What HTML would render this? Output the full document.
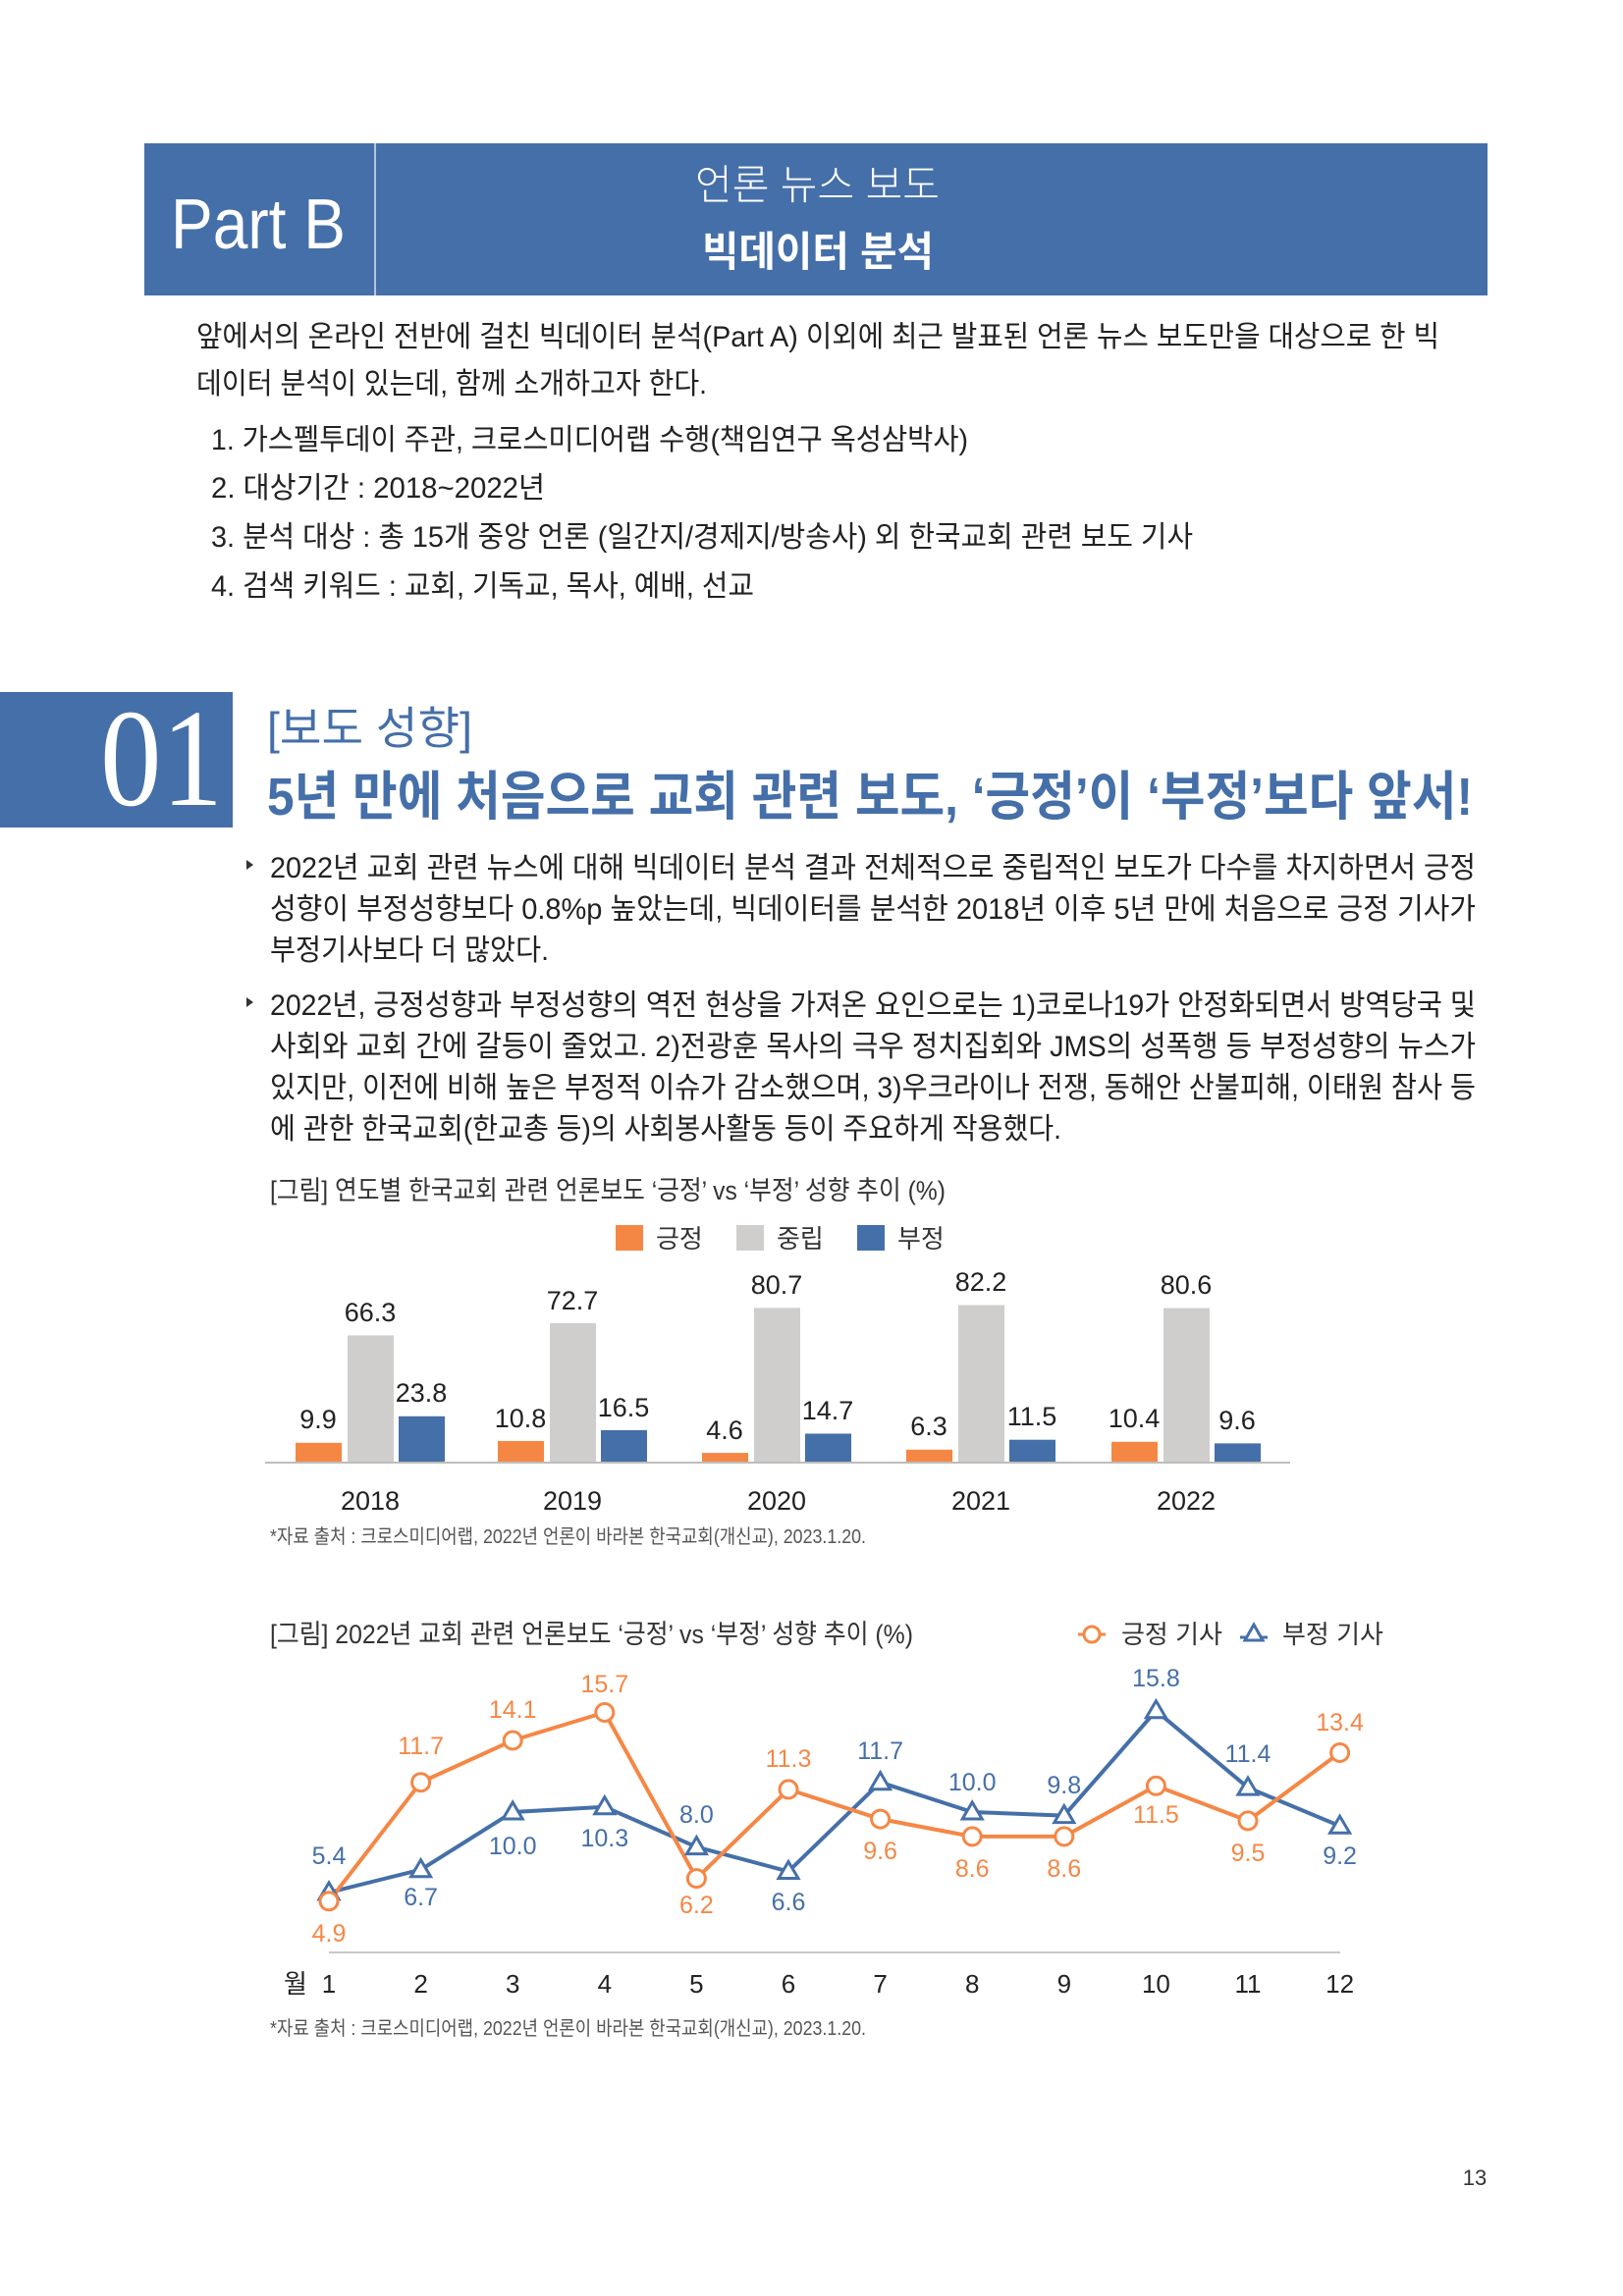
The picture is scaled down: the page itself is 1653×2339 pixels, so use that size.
<!DOCTYPE html>
<html><head><meta charset="utf-8"><style>
html,body{margin:0;padding:0;background:#fff;}
svg{display:block;}
text{font-family:"Liberation Sans","Noto Sans CJK KR",sans-serif;}
</style></head><body>
<svg width="1653" height="2339" viewBox="0 0 1653 2339" xmlns="http://www.w3.org/2000/svg">
<!-- Header -->
<rect x="147" y="146" width="1368" height="155" fill="#456fa8"/>
<line x1="382" y1="146" x2="382" y2="301" stroke="#ffffff" stroke-width="1.5" opacity="0.8"/>
<text x="174" y="253" font-size="72" fill="#fff" textLength="178" lengthAdjust="spacingAndGlyphs">Part B</text>
<text x="708" y="203" font-size="42" fill="#fff" font-weight="300" textLength="249" lengthAdjust="spacingAndGlyphs">언론 뉴스 보도</text>
<text x="715" y="271" font-size="42" fill="#fff" font-weight="bold" textLength="236" lengthAdjust="spacingAndGlyphs">빅데이터 분석</text>

<!-- Intro paragraph -->
<g font-size="30" fill="#222">
<text x="200" y="353" textLength="1266" lengthAdjust="spacingAndGlyphs">앞에서의 온라인 전반에 걸친 빅데이터 분석(Part A) 이외에 최근 발표된 언론 뉴스 보도만을 대상으로 한 빅</text>
<text x="200" y="401" textLength="520" lengthAdjust="spacingAndGlyphs">데이터 분석이 있는데, 함께 소개하고자 한다.</text>
<text x="215" y="458" textLength="771" lengthAdjust="spacingAndGlyphs">1.  가스펠투데이 주관, 크로스미디어랩 수행(책임연구 옥성삼박사)</text>
<text x="215" y="507" textLength="340" lengthAdjust="spacingAndGlyphs">2.  대상기간 : 2018~2022년</text>
<text x="215" y="557" textLength="1000" lengthAdjust="spacingAndGlyphs">3.  분석 대상 : 총 15개 중앙 언론 (일간지/경제지/방송사) 외 한국교회 관련 보도 기사</text>
<text x="215" y="607" textLength="553" lengthAdjust="spacingAndGlyphs">4.  검색 키워드 : 교회, 기독교, 목사, 예배, 선교</text>
</g>

<!-- Section 01 -->
<rect x="0" y="705" width="237" height="138" fill="#456fa8"/>
<text x="102" y="820" style="font-family:'Liberation Serif',serif" font-size="142" fill="#fff" textLength="125" lengthAdjust="spacingAndGlyphs">01</text>
<text x="272" y="758" font-size="46" fill="#456fa8" textLength="209" lengthAdjust="spacingAndGlyphs">[보도 성향]</text>
<text x="272" y="830" font-size="54" fill="#456fa8" font-weight="bold" textLength="1228" lengthAdjust="spacingAndGlyphs">5년 만에 처음으로 교회 관련 보도, ‘긍정’이 ‘부정’보다 앞서!</text>

<!-- Bullets -->
<g font-size="30" fill="#222">
<path d="M251 876 l7 5 l-7 5 z" fill="#333"/>
<text x="275" y="894" textLength="1228" lengthAdjust="spacingAndGlyphs">2022년 교회 관련 뉴스에 대해 빅데이터 분석 결과 전체적으로 중립적인 보도가 다수를 차지하면서 긍정</text>
<text x="275" y="936" textLength="1228" lengthAdjust="spacingAndGlyphs">성향이 부정성향보다 0.8%p 높았는데, 빅데이터를 분석한 2018년 이후 5년 만에 처음으로 긍정 기사가</text>
<text x="275" y="978" textLength="284" lengthAdjust="spacingAndGlyphs">부정기사보다 더 많았다.</text>
<path d="M251 1016 l7 5 l-7 5 z" fill="#333"/>
<text x="275" y="1034" textLength="1228" lengthAdjust="spacingAndGlyphs">2022년, 긍정성향과 부정성향의 역전 현상을 가져온 요인으로는 1)코로나19가 안정화되면서 방역당국 및</text>
<text x="275" y="1076" textLength="1228" lengthAdjust="spacingAndGlyphs">사회와 교회 간에 갈등이 줄었고. 2)전광훈 목사의 극우 정치집회와 JMS의 성폭행 등 부정성향의 뉴스가</text>
<text x="275" y="1118" textLength="1228" lengthAdjust="spacingAndGlyphs">있지만, 이전에 비해 높은 부정적 이슈가 감소했으며, 3)우크라이나 전쟁, 동해안 산불피해, 이태원 참사 등</text>
<text x="275" y="1160" textLength="806" lengthAdjust="spacingAndGlyphs">에 관한 한국교회(한교총 등)의 사회봉사활동 등이 주요하게 작용했다.</text>
</g>

<!-- Bar chart -->
<text x="275" y="1222" font-size="27" fill="#333" textLength="688" lengthAdjust="spacingAndGlyphs">[그림] 연도별 한국교회 관련 언론보도 ‘긍정’ vs ‘부정’ 성향 추이 (%)</text>
<rect x="627" y="1248" width="28" height="26" fill="#f58745"/>
<text x="668" y="1271" font-size="26" fill="#333">긍정</text>
<rect x="750" y="1248" width="28" height="26" fill="#cfcecd"/>
<text x="791" y="1271" font-size="26" fill="#333">중립</text>
<rect x="873" y="1248" width="28" height="26" fill="#456fa8"/>
<text x="914" y="1271" font-size="26" fill="#333">부정</text>

<g font-size="27" fill="#222" text-anchor="middle">
<rect x="301" y="1469.8" width="47" height="19.2" fill="#f58745"/>
<rect x="354" y="1360.4" width="47" height="128.6" fill="#cfcecd"/>
<rect x="406" y="1442.8" width="47" height="46.2" fill="#456fa8"/>
<text x="324" y="1455">9.9</text><text x="377" y="1346">66.3</text><text x="429" y="1428">23.8</text>
<text x="377" y="1538">2018</text>
<rect x="507" y="1468.0" width="47" height="21.0" fill="#f58745"/>
<rect x="560" y="1348.0" width="47" height="141.0" fill="#cfcecd"/>
<rect x="612" y="1457.0" width="47" height="32.0" fill="#456fa8"/>
<text x="530" y="1454">10.8</text><text x="583" y="1334">72.7</text><text x="635" y="1443">16.5</text>
<text x="583" y="1538">2019</text>
<rect x="715" y="1480.1" width="47" height="8.9" fill="#f58745"/>
<rect x="768" y="1332.4" width="47" height="156.6" fill="#cfcecd"/>
<rect x="820" y="1460.5" width="47" height="28.5" fill="#456fa8"/>
<text x="738" y="1466">4.6</text><text x="791" y="1318">80.7</text><text x="843" y="1446">14.7</text>
<text x="791" y="1538">2020</text>
<rect x="923" y="1476.8" width="47" height="12.2" fill="#f58745"/>
<rect x="976" y="1329.5" width="47" height="159.5" fill="#cfcecd"/>
<rect x="1028" y="1466.7" width="47" height="22.3" fill="#456fa8"/>
<text x="946" y="1462">6.3</text><text x="999" y="1315">82.2</text><text x="1051" y="1452">11.5</text>
<text x="999" y="1538">2021</text>
<rect x="1132" y="1468.8" width="47" height="20.2" fill="#f58745"/>
<rect x="1185" y="1332.6" width="47" height="156.4" fill="#cfcecd"/>
<rect x="1237" y="1470.4" width="47" height="18.6" fill="#456fa8"/>
<text x="1155" y="1454">10.4</text><text x="1208" y="1318">80.6</text><text x="1260" y="1456">9.6</text>
<text x="1208" y="1538">2022</text>
</g>
<line x1="270" y1="1490" x2="1314" y2="1490" stroke="#bdbdbd" stroke-width="2"/>
<text x="275" y="1572" font-size="20" fill="#555" textLength="607" lengthAdjust="spacingAndGlyphs">*자료 출처 : 크로스미디어랩, 2022년 언론이 바라본 한국교회(개신교), 2023.1.20.</text>

<!-- Line chart -->
<text x="275" y="1674" font-size="27" fill="#333" textLength="655" lengthAdjust="spacingAndGlyphs">[그림] 2022년 교회 관련 언론보도 ‘긍정’ vs ‘부정’ 성향 추이 (%)</text>
<line x1="1098" y1="1665" x2="1126" y2="1665" stroke="#f58745" stroke-width="3"/>
<circle cx="1112" cy="1665" r="8" fill="#fff" stroke="#f58745" stroke-width="3"/>
<text x="1142" y="1674" font-size="26" fill="#333">긍정 기사</text>
<line x1="1263" y1="1668" x2="1291" y2="1668" stroke="#456fa8" stroke-width="3"/>
<path d="M1277 1655 l9 16 h-18 z" fill="#fff" stroke="#456fa8" stroke-width="3"/>
<text x="1306" y="1674" font-size="26" fill="#333">부정 기사</text>

<line x1="335" y1="1989" x2="1365" y2="1989" stroke="#c8c8c8" stroke-width="2"/>
<polyline fill="none" stroke="#456fa8" stroke-width="4" stroke-linejoin="round" points="335,1927.9 428.6,1904.7 522.2,1846 615.8,1840.7 709.4,1881.6 803,1906.5 896.6,1815.7 990.2,1846 1083.8,1849.6 1177.4,1742.8 1271,1821.1 1364.6,1860.2"/>
<polyline fill="none" stroke="#f58745" stroke-width="4" stroke-linejoin="round" points="335,1936.8 428.6,1815.7 522.2,1773 615.8,1744.5 709.4,1913.6 803,1822.9 896.6,1853.1 990.2,1870.9 1083.8,1870.9 1177.4,1819.3 1271,1854.9 1364.6,1785.5"/>
<g fill="#fff" stroke="#456fa8" stroke-width="3">
<path d="M335 1917.9 l10 17 h-20 z"/><path d="M428.6 1894.7 l10 17 h-20 z"/><path d="M522.2 1836 l10 17 h-20 z"/><path d="M615.8 1830.7 l10 17 h-20 z"/><path d="M709.4 1871.6 l10 17 h-20 z"/><path d="M803 1896.5 l10 17 h-20 z"/><path d="M896.6 1805.7 l10 17 h-20 z"/><path d="M990.2 1836 l10 17 h-20 z"/><path d="M1083.8 1839.6 l10 17 h-20 z"/><path d="M1177.4 1732.8 l10 17 h-20 z"/><path d="M1271 1811.1 l10 17 h-20 z"/><path d="M1364.6 1850.2 l10 17 h-20 z"/>
</g>
<g fill="#fff" stroke="#f58745" stroke-width="3">
<circle cx="335" cy="1936.8" r="9"/><circle cx="428.6" cy="1815.7" r="9"/><circle cx="522.2" cy="1773" r="9"/><circle cx="615.8" cy="1744.5" r="9"/><circle cx="709.4" cy="1913.6" r="9"/><circle cx="803" cy="1822.9" r="9"/><circle cx="896.6" cy="1853.1" r="9"/><circle cx="990.2" cy="1870.9" r="9"/><circle cx="1083.8" cy="1870.9" r="9"/><circle cx="1177.4" cy="1819.3" r="9"/><circle cx="1271" cy="1854.9" r="9"/><circle cx="1364.6" cy="1785.5" r="9"/>
</g>
<g font-size="25" fill="#f58745" text-anchor="middle">
<text x="335" y="1978">4.9</text><text x="428.6" y="1787">11.7</text><text x="522.2" y="1750">14.1</text><text x="615.8" y="1724">15.7</text><text x="709.4" y="1949">6.2</text><text x="803" y="1800">11.3</text><text x="896.6" y="1894">9.6</text><text x="990.2" y="1912">8.6</text><text x="1083.8" y="1912">8.6</text><text x="1177.4" y="1857">11.5</text><text x="1271" y="1896">9.5</text><text x="1364.6" y="1763">13.4</text>
</g>
<g font-size="25" fill="#456fa8" text-anchor="middle">
<text x="335" y="1899">5.4</text><text x="428.6" y="1941">6.7</text><text x="522.2" y="1889">10.0</text><text x="615.8" y="1881">10.3</text><text x="709.4" y="1857">8.0</text><text x="803" y="1946">6.6</text><text x="896.6" y="1792">11.7</text><text x="990.2" y="1824">10.0</text><text x="1083.8" y="1827">9.8</text><text x="1177.4" y="1718">15.8</text><text x="1271" y="1795">11.4</text><text x="1364.6" y="1899">9.2</text>
</g>
<g font-size="26" fill="#222" text-anchor="middle">
<text x="301" y="2030">월</text>
<text x="335" y="2030">1</text><text x="428.6" y="2030">2</text><text x="522.2" y="2030">3</text><text x="615.8" y="2030">4</text><text x="709.4" y="2030">5</text><text x="803" y="2030">6</text><text x="896.6" y="2030">7</text><text x="990.2" y="2030">8</text><text x="1083.8" y="2030">9</text><text x="1177.4" y="2030">10</text><text x="1271" y="2030">11</text><text x="1364.6" y="2030">12</text>
</g>
<text x="275" y="2073" font-size="20" fill="#555" textLength="607" lengthAdjust="spacingAndGlyphs">*자료 출처 : 크로스미디어랩, 2022년 언론이 바라본 한국교회(개신교), 2023.1.20.</text>

<text x="1502" y="2226" font-size="22" fill="#333" text-anchor="middle">13</text>
</svg>
</body></html>
